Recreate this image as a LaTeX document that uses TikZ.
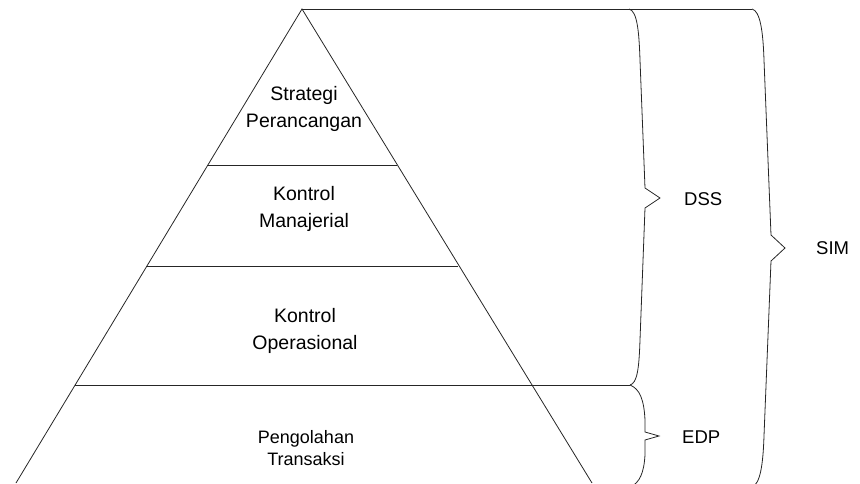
\documentclass[tikz,border=0pt]{standalone}
\usepackage{fontspec}
\setmainfont{Liberation Sans}
\begin{document}
\begin{tikzpicture}[x=1pt,y=-1pt,
  edge/.style={draw=black!85,line width=0.8pt},
  brace/.style={draw=black!85,line width=0.8pt,line join=miter},
  label/.style={font=\fontsize{19.5}{26.5}\selectfont,align=center,inner sep=0pt},
  tag/.style={font=\fontsize{18.5}{20}\selectfont,anchor=base west,inner sep=0pt}]
\useasboundingbox (0,0) rectangle (860,483);

% pyramid corners and level boundaries
\coordinate (apex) at (302,9);
\coordinate (l1) at (207,165);  \coordinate (r1) at (397,165);
\coordinate (l2) at (146,266);  \coordinate (r2) at (458,266);
\coordinate (l3) at (75,385);   \coordinate (r3) at (532,385);
\coordinate (lb) at (16,483);   \coordinate (rb) at (592,483);

% brace end points
\coordinate (dssTop) at (629,9);
\coordinate (dssBot) at (630,385);
\coordinate (edpBot) at (630,487);
\coordinate (simTop) at (752,9);
\coordinate (simBot) at (752,487);

% pyramid outline
\path[edge] (lb) -- (apex) -- (rb);
\path[edge] (l1) -- (r1);
\path[edge] (l2) -- (r2);
\path[edge] (l3) -- (dssBot);
\path[edge] (apex) -- (simTop);

% DSS brace
\path[brace] (dssTop) .. controls (637,11) and (639,30) .. (640,60)
  -- (645,188) -- (660,198) -- (645,208) -- (640,340)
  .. controls (639,370) and (637,383) .. (dssBot);
% EDP brace
\path[brace] (dssBot) .. controls (640,389) and (644,400) .. (645,420)
  -- (645,432) -- (659,436) -- (645,440) -- (645,455)
  .. controls (644,472) and (640,483) .. (edpBot);
% SIM brace
\path[brace] (simTop) .. controls (760,11) and (763,30) .. (764,60)
  -- (771,235) -- (785,248) -- (771,261) -- (764,436)
  .. controls (763,466) and (760,484) .. (simBot);

% level texts
\node[label] (t1) at (304,109) {Strategi\\Perancangan};
\node[label] (t2) at (304,209) {Kontrol\\Manajerial};
\node[label] (t3) at (305,331) {Kontrol\\Operasional};
\node[label,font=\fontsize{18}{22}\selectfont] (t4) at (306,448) {Pengolahan\\Transaksi};

% brace labels
\node[tag] (dss) at (684,205) {DSS};
\node[tag] (sim) at (816,254) {SIM};
\node[tag] (edp) at (682,443) {EDP};
\end{tikzpicture}
\end{document}
